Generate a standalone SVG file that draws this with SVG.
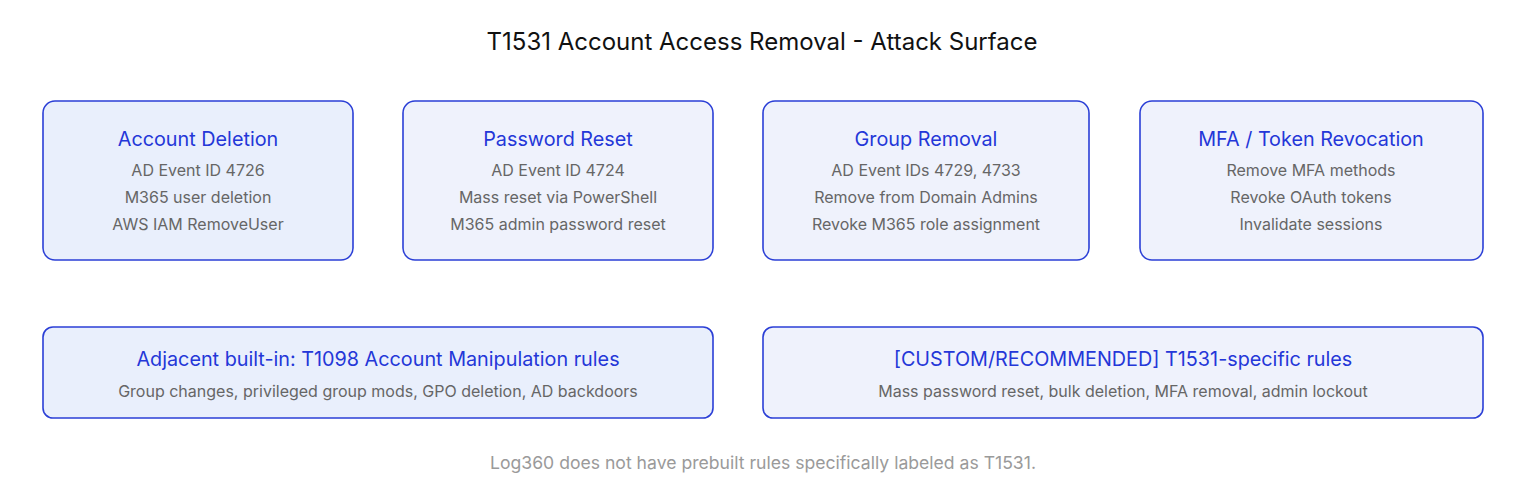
<svg xmlns="http://www.w3.org/2000/svg" width="1516" height="492" viewBox="0 0 1516 492">
<style>
.box{stroke:#2b3fd6;stroke-width:1.6;}
.fa{fill:#e9effc;}
.fb{fill:#eff2fc;}
.h{font-family:Inter,"Noto Sans",sans-serif;font-size:19.8px;fill:#2437d8;text-anchor:middle;}
.s{font-family:Inter,"Noto Sans",sans-serif;font-size:16px;fill:#666;text-anchor:middle;}
.t{font-family:Inter,"Noto Sans",sans-serif;font-size:24px;fill:#111;text-anchor:middle;}
.f{font-family:Inter,"Noto Sans",sans-serif;font-size:17.6px;fill:#9a9a9a;text-anchor:middle;}
</style>
<rect width="1516" height="492" fill="#ffffff"/>
<text class="t" x="762" y="50">T1531 Account Access Removal - Attack Surface</text>
<g id="connectors"></g>
<g id="account-deletion">
<rect class="box fa" x="43" y="101" width="310" height="159" rx="12"/>
<text class="h" x="198" y="146">Account Deletion</text>
<text class="s" x="198" y="176">AD Event ID 4726</text>
<text class="s" x="198" y="203">M365 user deletion</text>
<text class="s" x="198" y="230">AWS IAM RemoveUser</text>
</g>
<g id="password-reset">
<rect class="box fb" x="403" y="101" width="310" height="159" rx="12"/>
<text class="h" x="558" y="146">Password Reset</text>
<text class="s" x="558" y="176">AD Event ID 4724</text>
<text class="s" x="558" y="203">Mass reset via PowerShell</text>
<text class="s" x="558" y="230">M365 admin password reset</text>
</g>
<g id="group-removal">
<rect class="box fb" x="763" y="101" width="326" height="159" rx="12"/>
<text class="h" x="926" y="146">Group Removal</text>
<text class="s" x="926" y="176">AD Event IDs 4729, 4733</text>
<text class="s" x="926" y="203">Remove from Domain Admins</text>
<text class="s" x="926" y="230">Revoke M365 role assignment</text>
</g>
<g id="mfa-token">
<rect class="box fb" x="1140" y="101" width="343" height="159" rx="12"/>
<text class="h" x="1311" y="146">MFA / Token Revocation</text>
<text class="s" x="1311" y="176">Remove MFA methods</text>
<text class="s" x="1311" y="203">Revoke OAuth tokens</text>
<text class="s" x="1311" y="230">Invalidate sessions</text>
</g>
<g id="adjacent-builtin">
<rect class="box fa" x="43" y="327" width="670" height="91" rx="10"/>
<text class="h" x="378" y="366">Adjacent built-in: T1098 Account Manipulation rules</text>
<text class="s" x="378" y="397">Group changes, privileged group mods, GPO deletion, AD backdoors</text>
</g>
<g id="custom-recommended">
<rect class="box fb" x="763" y="327" width="720" height="91" rx="10"/>
<text class="h" x="1123" y="366">[CUSTOM/RECOMMENDED] T1531-specific rules</text>
<text class="s" x="1123" y="397">Mass password reset, bulk deletion, MFA removal, admin lockout</text>
</g>
<text class="f" x="763" y="469">Log360 does not have prebuilt rules specifically labeled as T1531.</text>
</svg>
